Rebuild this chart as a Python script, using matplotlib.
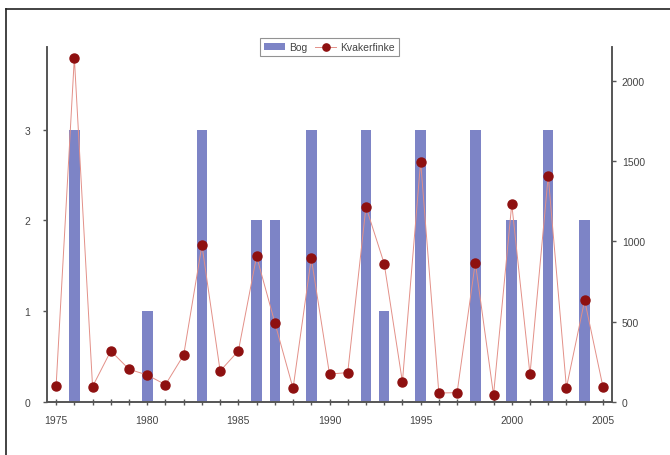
import numpy as np
import matplotlib
matplotlib.use('Agg')
import matplotlib.pyplot as plt
from matplotlib.lines import Line2D

plt.rcParams['font.family'] = ['Liberation Sans', 'DejaVu Sans']

years = list(range(1975, 2006))
bog_years = [1976, 1980, 1983, 1986, 1987, 1989, 1992, 1993, 1995, 1998, 2000, 2002, 2004]
bog = [3, 1, 3, 2, 2, 3, 3, 1, 3, 3, 2, 3, 2]
kvakerfinke = [100, 2143, 96, 318, 204, 168, 108, 293, 976, 193, 318, 907, 494, 85,
               895, 174, 183, 1215, 862, 125, 1497, 56, 58, 868, 44, 1232, 172,
               1408, 89, 633, 96]
xtick_labels = [1975, 1980, 1985, 1990, 1995, 2000, 2005]

bar_color = '#7d84c6'
line_color = '#e39088'
dot_color = '#8e1010'
axis_color = '#555555'
text_color = '#444444'

fig = plt.figure(figsize=(6.7, 4.56), dpi=100)
fig.patch.set_facecolor('white')

# outer frame (only left and top edges are visible in the picture)
fig.add_artist(Line2D([6/670, 6/670], [0, 1 - 10/456], transform=fig.transFigure,
                      color='#222222', lw=1.2))
fig.add_artist(Line2D([6/670, 1], [1 - 10/456, 1 - 10/456], transform=fig.transFigure,
                      color='#222222', lw=1.2))

ax = fig.add_axes([47/670, 1 - 403/456, (612 - 47)/670, (403 - 48)/456])
ax2 = ax.twinx()

ax.bar(bog_years, bog, width=0.58, color=bar_color, zorder=2, label='Bog')
ax2.plot(years, kvakerfinke, color=line_color, lw=0.7, marker='o', markersize=6.5,
         markerfacecolor=dot_color, markeredgecolor=dot_color, zorder=3,
         label='Kvakerfinke')

ax.set_xlim(1974.5, 2005.5)
ax.set_ylim(0, 3.91)
ax2.set_ylim(0, 2210)

ax.set_xticks(xtick_labels)
ax.set_xticks(years, minor=True)
ax.set_yticks([0, 1, 2, 3])
ax2.set_yticks([0, 500, 1000, 1500, 2000])

for a in (ax, ax2):
    a.spines['top'].set_visible(False)
    for s in ('left', 'right', 'bottom'):
        a.spines[s].set_color(axis_color)
        a.spines[s].set_linewidth(1.2)
    a.patch.set_visible(False)

ax.tick_params(axis='x', which='both', direction='inout', length=5, width=1,
               color=axis_color, labelsize=7.5, labelcolor=text_color, pad=7)
ax.tick_params(axis='y', direction='out', length=3, width=1, color=axis_color,
               labelsize=7.5, labelcolor=text_color, pad=9)
ax2.tick_params(axis='y', direction='out', length=3, width=1, color=axis_color,
                labelsize=7.5, labelcolor=text_color, pad=4)

h1, l1 = ax.get_legend_handles_labels()
h2, l2 = ax2.get_legend_handles_labels()
leg = ax2.legend(h1 + h2, l1 + l2, loc='upper center', bbox_to_anchor=(0.5, 1.04),
                 ncol=2, fontsize=7.5, frameon=True, fancybox=False,
                 handlelength=2.0, handletextpad=0.4, columnspacing=0.8,
                 borderpad=0.4, markerscale=0.8)
leg.get_frame().set_edgecolor('#777777')
leg.get_frame().set_linewidth(0.8)
for t in leg.get_texts():
    t.set_color(text_color)

fig.savefig('out.png', dpi=100)
